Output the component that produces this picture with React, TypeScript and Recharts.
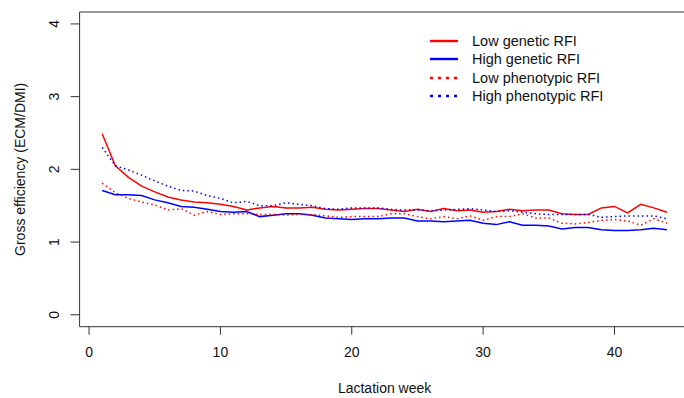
import { LineChart, Line, XAxis, YAxis, Legend, ReferenceLine, Label } from 'recharts';

const weeks = [1, 2, 3, 4, 5, 6, 7, 8, 9, 10, 11, 12, 13, 14, 15, 16, 17, 18, 19, 20, 21, 22, 23, 24, 25, 26, 27, 28, 29, 30, 31, 32, 33, 34, 35, 36, 37, 38, 39, 40, 41, 42, 43, 44];

const lowGenetic = [2.49, 2.05, 1.89, 1.77, 1.69, 1.62, 1.58, 1.55, 1.54, 1.52, 1.49, 1.44, 1.47, 1.49, 1.47, 1.47, 1.48, 1.45, 1.44, 1.45, 1.46, 1.46, 1.44, 1.42, 1.45, 1.42, 1.46, 1.43, 1.44, 1.41, 1.42, 1.45, 1.43, 1.44, 1.44, 1.39, 1.38, 1.38, 1.47, 1.49, 1.40, 1.52, 1.47, 1.41];
const highGenetic = [1.71, 1.65, 1.65, 1.64, 1.58, 1.54, 1.49, 1.48, 1.45, 1.42, 1.41, 1.42, 1.35, 1.37, 1.39, 1.39, 1.37, 1.33, 1.32, 1.31, 1.32, 1.32, 1.33, 1.33, 1.29, 1.29, 1.28, 1.29, 1.30, 1.26, 1.24, 1.28, 1.23, 1.23, 1.22, 1.18, 1.20, 1.20, 1.17, 1.16, 1.16, 1.17, 1.19, 1.17];
const lowPhenotypic = [1.81, 1.68, 1.60, 1.55, 1.51, 1.44, 1.46, 1.37, 1.42, 1.38, 1.39, 1.39, 1.38, 1.38, 1.37, 1.38, 1.38, 1.36, 1.34, 1.35, 1.35, 1.35, 1.39, 1.39, 1.35, 1.32, 1.35, 1.32, 1.36, 1.30, 1.35, 1.35, 1.39, 1.33, 1.33, 1.26, 1.25, 1.27, 1.30, 1.31, 1.29, 1.23, 1.32, 1.26];
const highPhenotypic = [2.30, 2.05, 1.99, 1.92, 1.84, 1.77, 1.71, 1.70, 1.64, 1.60, 1.54, 1.56, 1.50, 1.50, 1.54, 1.52, 1.50, 1.46, 1.45, 1.47, 1.47, 1.47, 1.45, 1.44, 1.44, 1.43, 1.44, 1.45, 1.46, 1.44, 1.42, 1.43, 1.41, 1.39, 1.38, 1.38, 1.38, 1.38, 1.34, 1.35, 1.36, 1.36, 1.36, 1.32];

const xTicks = [0, 10, 20, 30, 40];
const yTicks = [0, 1, 2, 3, 4];

const series = [
  { key: 'lowGenetic', name: 'Low genetic RFI', color: '#ff0000', dotted: false },
  { key: 'highGenetic', name: 'High genetic RFI', color: '#0000ff', dotted: false },
  { key: 'lowPhenotypic', name: 'Low phenotypic RFI', color: '#ff0000', dotted: true },
  { key: 'highPhenotypic', name: 'High phenotypic RFI', color: '#0000ff', dotted: true },
];

const data = weeks.map((week, i) => ({
  week,
  lowGenetic: lowGenetic[i],
  highGenetic: highGenetic[i],
  lowPhenotypic: lowPhenotypic[i],
  highPhenotypic: highPhenotypic[i],
}));

const FONT = '"Liberation Sans", Arial, sans-serif';
const AXIS = '#333';

// R puts y tick labels parallel to the axis
const YTick = (props: any) => {
  const { x, y, payload } = props;
  return (
    <text
      x={x - 15}
      y={y}
      transform={`rotate(-90, ${x - 15}, ${y})`}
      textAnchor="middle"
      dominantBaseline="central"
      fontSize={14}
      fontFamily={FONT}
      fill="#111"
    >
      {payload.value}
    </text>
  );
};

// keep the legend in the series order (recharts sorts by name otherwise)
const renderLegend = (props: any) => {
  const payload = props.payload || [];
  return (
    <div style={{ fontFamily: FONT, fontSize: 14.5, color: '#111' }}>
      {series.map(s => {
        const entry = payload.find((p: any) => p.value === s.name);
        const color = entry ? entry.color : s.color;
        return (
          <div key={s.key} style={{ display: 'flex', alignItems: 'center', height: 18.3 }}>
            <svg width={30} height={10}>
              <line
                x1={2}
                y1={5}
                x2={30}
                y2={5}
                stroke={color}
                strokeWidth={2.4}
                strokeDasharray={s.dotted ? '3 5' : undefined}
              />
            </svg>
            <span style={{ marginLeft: 14 }}>{s.name}</span>
          </div>
        );
      })}
    </div>
  );
};

const App = () => {
  return (
    <div style={{ position: 'absolute', left: 0, top: 0, width: 684, height: 398, overflow: 'hidden', background: '#fff' }}>
      <LineChart width={700} height={398} data={data} margin={{ top: 12, right: 10.4, bottom: 0, left: 0 }}>
        <XAxis
          type="number"
          dataKey="week"
          domain={[-0.72, 45.72]}
          allowDataOverflow
          ticks={xTicks}
          tickSize={8}
          tickMargin={12}
          height={71.3}
          stroke={AXIS}
          tick={{ fill: '#111', fontSize: 14, fontFamily: FONT }}
        >
          <Label value="Lactation week" position="insideBottom" offset={5} fill="#111" fontSize={14} fontFamily={FONT} />
        </XAxis>
        <YAxis
          type="number"
          domain={[-0.164, 4.164]}
          allowDataOverflow
          ticks={yTicks}
          tickSize={9}
          width={79.6}
          stroke={AXIS}
          tick={<YTick />}
        >
          <Label
            content={(p: any) => {
              const vb = p.viewBox;
              const cy = vb.y + vb.height / 2;
              return (
                <text
                  x={20}
                  y={cy}
                  transform={`rotate(-90, 20, ${cy})`}
                  textAnchor="middle"
                  dominantBaseline="central"
                  fontSize={14}
                  fontFamily={FONT}
                  fill="#111"
                >
                  Gross efficiency (ECM/DMI)
                </text>
              );
            }}
          />
        </YAxis>
        <ReferenceLine y={4.164} stroke={AXIS} strokeWidth={1} />
        <Legend
          layout="vertical"
          align="center"
          verticalAlign="middle"
          content={renderLegend}
          wrapperStyle={{ position: 'absolute', left: 428, top: 32, width: 240 }}
        />
        {series.map(s => (
          <Line
            key={s.key}
            type="linear"
            dataKey={s.key}
            name={s.name}
            stroke={s.color}
            strokeWidth={1.5}
            strokeDasharray={s.dotted ? '1.5 3' : undefined}
            dot={false}
            activeDot={false}
            isAnimationActive={false}
          />
        ))}
      </LineChart>
    </div>
  );
};

export default App;
